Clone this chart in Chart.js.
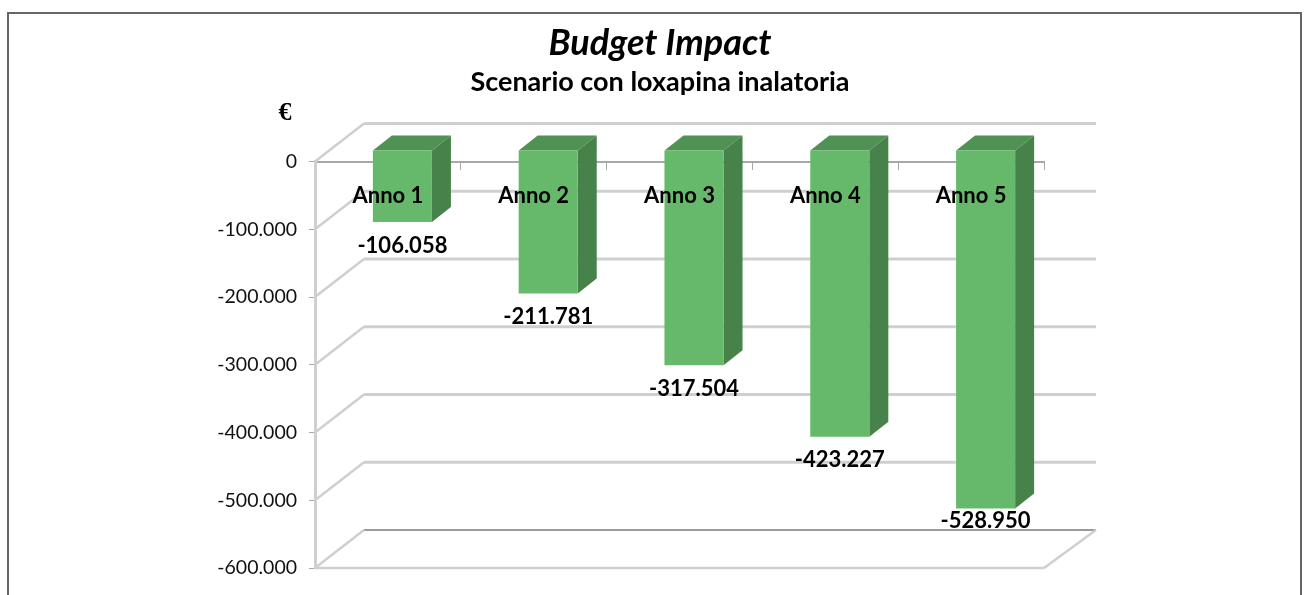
<!DOCTYPE html>
<html lang="it">
<head>
  <meta charset="UTF-8">
  <title>Budget Impact</title>
  <script src="https://cdn.jsdelivr.net/npm/chart.js"></script>
  <style>
    html, body { margin: 0; padding: 0; background: #fff; overflow: hidden; }
    .frame { position: absolute; left: 7px; top: 12px; width: 1295px; height: 600px;
             border: 2px solid #666; box-sizing: border-box; }
    .chart-container { position: absolute; left: 0; top: 0; width: 1309px; height: 595px; }
  </style>
</head>
<body>
  <div class="frame"></div>
  <div class="chart-container">
    <canvas id="myChart"></canvas>
  </div>

  <script>
    // Dati
    const categories = ['Anno 1', 'Anno 2', 'Anno 3', 'Anno 4', 'Anno 5'];
    const budgetValues = [-106058, -211781, -317504, -423227, -528950];
    const valueLabels = ['-106.058', '-211.781', '-317.504', '-423.227', '-528.950'];
    const tickValues = [0, -100000, -200000, -300000, -400000, -500000, -600000];
    const tickLabels = ['0', '-100.000', '-200.000', '-300.000', '-400.000', '-500.000', '-600.000'];

    const FONT = 'Lato, "Open Sans", sans-serif';
    const WALL_DX = 49, WALL_DY = -38;   // profondita del fondo
    const BAR_DX = 14.5, BAR_DY = -11.5; // faccia anteriore delle barre
    const SIDE_DX = 19, SIDE_DY = -15;   // spessore delle barre

    function line(ctx, x1, y1, x2, y2, color, width) {
      ctx.beginPath();
      ctx.moveTo(x1, y1);
      ctx.lineTo(x2, y2);
      ctx.strokeStyle = color;
      ctx.lineWidth = width;
      ctx.stroke();
    }

    function poly(ctx, pts, color) {
      ctx.beginPath();
      pts.forEach((p, i) => i ? ctx.lineTo(p[0], p[1]) : ctx.moveTo(p[0], p[1]));
      ctx.closePath();
      ctx.fillStyle = color;
      ctx.fill();
    }

    // Pareti, pavimento e facce 3D delle barre
    const fake3d = {
      id: 'fake3d',
      afterLayout(chart) {
        // le etichette dell'asse y escono dalla colonna stretta: niente taglio
        chart.scales.y.left = 150;
      },
      beforeDatasetsDraw(chart) {
        const { ctx, scales: { x, y } } = chart;
        const wall = '#cfcfcf';
        ctx.save();
        tickValues.forEach((v) => {
          const py = y.getPixelForValue(v);
          const dark = v === tickValues[tickValues.length - 1];
          line(ctx, x.left + WALL_DX, py + WALL_DY, x.right + WALL_DX + 3, py + WALL_DY, dark ? '#9a9a9a' : wall, dark ? 2 : 3);
          line(ctx, x.left, py, x.left + WALL_DX, py + WALL_DY, wall, 2.5);
        });
        const floor = y.getPixelForValue(tickValues[tickValues.length - 1]);
        line(ctx, x.left, floor, x.right, floor, wall, 2.5);
        line(ctx, x.right, floor, x.right + WALL_DX + 3, floor + WALL_DY, wall, 2.5);

        // facce superiore e laterale
        chart.getDatasetMeta(0).data.forEach((bar) => {
          const l = bar.x - bar.width / 2 + BAR_DX;
          const r = bar.x + bar.width / 2 + BAR_DX;
          const t = bar.base + BAR_DY;
          const b = bar.y + BAR_DY;
          poly(ctx, [[l, t], [r, t], [r + SIDE_DX, t + SIDE_DY], [l + SIDE_DX, t + SIDE_DY]], '#4f9254');
          poly(ctx, [[r, t], [r + SIDE_DX, t + SIDE_DY], [r + SIDE_DX, b + SIDE_DY], [r, b]], '#47824b');
        });
        ctx.restore();

        // la faccia anteriore la disegna Chart.js, solo spostata in profondita
        ctx.save();
        ctx.translate(BAR_DX, BAR_DY);
      },
      afterDatasetsDraw(chart) {
        const { ctx, scales: { y } } = chart;
        ctx.restore();

        ctx.save();
        ctx.fillStyle = '#000';
        ctx.font = 'bold 22px ' + FONT;
        ctx.textAlign = 'center';
        ctx.textBaseline = 'middle';
        const floorBack = y.getPixelForValue(tickValues[tickValues.length - 1]) + WALL_DY;
        chart.getDatasetMeta(0).data.forEach((bar, i) => {
          ctx.fillText(valueLabels[i], bar.x + BAR_DX, Math.min(bar.y + BAR_DY + 23.5, floorBack - 9));
        });
        // simbolo dell'euro sopra l'asse
        ctx.font = 'bold 26px "Liberation Serif", serif';
        ctx.fillText('€', 285, 113);
        ctx.restore();
      }
    };

    const ctx = document.getElementById('myChart').getContext('2d');
    const myChart = new Chart(ctx, {
      type: 'bar',
      data: {
        labels: categories,
        datasets: [{
          label: 'Budget Impact',
          data: budgetValues,
          backgroundColor: '#66b96b',
          categoryPercentage: 1,
          barPercentage: 0.405
        }]
      },
      options: {
        responsive: true,
        maintainAspectRatio: false,
        animation: false,
        layout: { padding: { left: 276, right: 265, top: 12, bottom: 27 } },
        plugins: {
          legend: { display: false },
          tooltip: { enabled: false },
          title: {
            display: true,
            text: 'Budget Impact',
            color: '#000',
            font: { family: FONT, size: 36, weight: 'bold', style: 'italic' },
            padding: { top: 10, bottom: 0 }
          },
          subtitle: {
            display: true,
            text: 'Scenario con loxapina inalatoria',
            color: '#000',
            font: { family: FONT, size: 27, weight: 'bold' },
            padding: { top: 1, bottom: 63 }
          }
        },
        scales: {
          x: {
            position: { y: 0 },
            grid: { drawOnChartArea: false, drawTicks: true, tickLength: 7, color: '#a8a8a8' },
            border: { color: '#a8a8a8', width: 2 },
            ticks: {
              color: '#000',
              font: { family: FONT, size: 22, weight: 'bold' },
              padding: 14,
              maxRotation: 0,
              z: 1
            }
          },
          y: {
            min: -600000,
            max: 0,
            afterFit: (scale) => { scale.width = 39; },
            afterBuildTicks: (scale) => { scale.ticks = tickValues.map((value) => ({ value })); },
            grid: { drawOnChartArea: false, drawTicks: true, tickLength: 6, color: '#a8a8a8' },
            border: { color: '#cfcfcf', width: 3 },
            ticks: {
              color: '#111',
              font: { family: FONT, size: 19.5 },
              padding: 12,
              callback: (value) => tickLabels[tickValues.indexOf(value)]
            }
          }
        }
      },
      plugins: [fake3d]
    });
  </script>
</body>
</html>
